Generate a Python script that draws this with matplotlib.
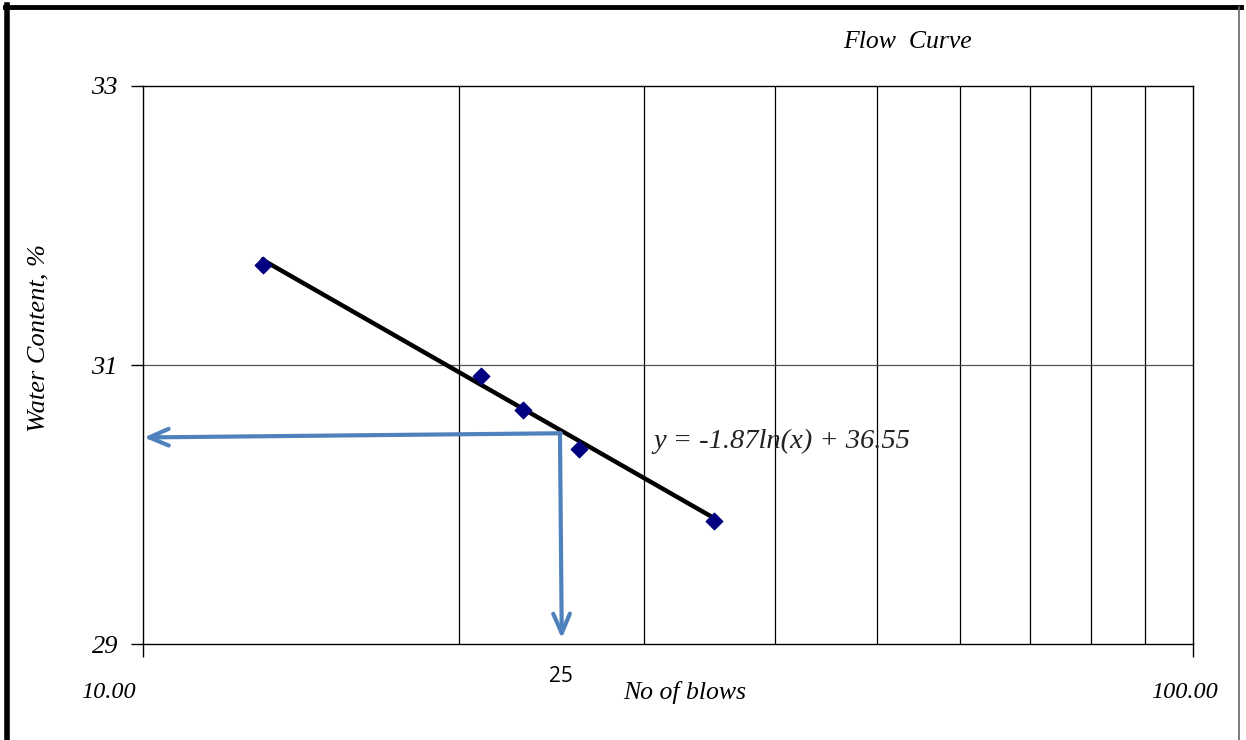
import numpy as np
import matplotlib
matplotlib.use("Agg")
import matplotlib.pyplot as plt
from matplotlib.lines import Line2D

# liquid limit test: blows vs water content
blows = [13, 21, 23, 26, 35]
water_content = [31.72, 30.92, 30.68, 30.40, 29.88]

# fitted log trend y = a ln(x) + b
a_coef = -1.87
b_coef = 36.55
n_target = 25

y_ticks = [29, 31, 33]
x_grid = [20, 30, 40, 50, 60, 70, 80, 90]

serif = "Liberation Serif"
arrow_blue = "#4f81bd"

fig = plt.figure(figsize=(12.46, 7.40), dpi=100)
ax = fig.add_axes([0.1148, 0.1297, 0.8427, 0.7541])

ax.set_xscale("log")
ax.set_xlim(10, 100)
ax.set_ylim(29, 33)

# grid
for gx in x_grid:
    ax.axvline(gx, color="black", lw=0.9, zorder=1)
ax.axhline(31, color="#555555", lw=0.9, zorder=1)

# trend line over the data range
xs = np.linspace(min(blows), max(blows), 50)
ax.plot(xs, a_coef * np.log(xs) + b_coef, color="black", lw=3.2, zorder=3)

ax.scatter(blows, water_content, marker="D", s=70, color="#000080", zorder=4)

# reading at 25 blows
y25 = a_coef * np.log(n_target) + b_coef
head = "->,head_length=1.4,head_width=0.6"
ax.annotate("", xy=(10.02, y25 - 0.05), xytext=(n_target, y25 - 0.02),
            arrowprops=dict(arrowstyle=head, color=arrow_blue, lw=3.0,
                            shrinkA=0, shrinkB=0),
            zorder=5)
ax.annotate("", xy=(n_target + 0.05, 29.04), xytext=(n_target - 0.05, y25 - 0.02),
            arrowprops=dict(arrowstyle=head, color=arrow_blue, lw=3.0,
                            shrinkA=0, shrinkB=0),
            zorder=5)

ax.text(30.6, 30.45, "y = -1.87ln(x) + 36.55", family=serif, style="italic",
        fontsize=20.5, color="#222222", va="center", ha="left", zorder=6)

# axes and ticks
ax.set_yticks(y_ticks)
ax.set_yticklabels([str(t) for t in y_ticks], family=serif, style="italic",
                   fontsize=19)
ax.set_xticks([10, 100])
ax.set_xticklabels([])
ax.xaxis.set_minor_locator(matplotlib.ticker.NullLocator())
ax.tick_params(axis="y", direction="out", length=9, width=1, pad=9)
ax.tick_params(axis="x", direction="out", length=9, width=1)
for s in ax.spines.values():
    s.set_linewidth(1.0)
    s.set_color("black")

fig.text(108 / 1246, 1 - 693 / 740, "10.00", family=serif, style="italic",
         fontsize=17.5, ha="center", va="center")
fig.text(1185 / 1246, 1 - 692 / 740, "100.00", family=serif, style="italic",
         fontsize=17.5, ha="center", va="center")

ax.text(n_target, 28.77, "25", family="Open Sans", fontsize=15,
        ha="center", va="center")

fig.text(685 / 1246, 1 - 693 / 740, "No of blows", family=serif,
         style="italic", fontsize=18.5, ha="center", va="center")
fig.text(0.031, 0.543, "Water Content, %", family=serif, style="italic",
         fontsize=19, rotation=90, ha="center", va="center")
fig.text(0.728, 0.943, "Flow  Curve", family=serif, style="italic",
         fontsize=18.5, ha="center", va="center")

# outer frame
fig.add_artist(Line2D([0.006, 0.006], [0, 0.993], color="black", lw=4,
                      transform=fig.transFigure))
fig.add_artist(Line2D([0.004, 0.996], [0.991, 0.991], color="black", lw=3.5,
                      transform=fig.transFigure))
fig.add_artist(Line2D([0.9945, 0.9945], [0, 0.991], color="#666666", lw=1.2,
                      transform=fig.transFigure))

fig.savefig("out.png", dpi=100)
